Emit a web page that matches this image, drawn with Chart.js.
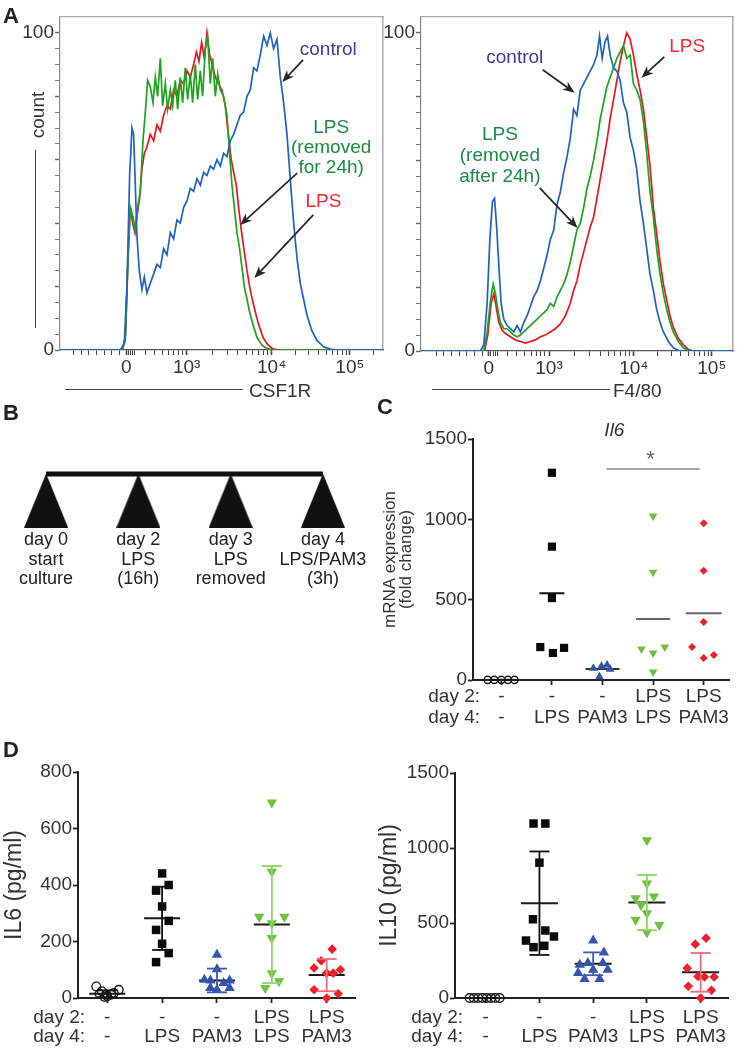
<!DOCTYPE html>
<html><head><meta charset="utf-8">
<script src="https://cdn.jsdelivr.net/npm/chart.js@4.4.1/dist/chart.umd.min.js"></script>
<style>
html,body{margin:0;padding:0;background:#fff;}
body{width:749px;height:1050px;position:relative;overflow:hidden;font-family:"Liberation Sans",Arial,Helvetica,sans-serif;color:#333;}
canvas{position:absolute;}
.pl{position:absolute;font-weight:bold;font-size:22px;line-height:1;color:#222;}
.tx{position:absolute;font-size:19px;line-height:1;color:#333;white-space:nowrap;}
.hl{position:absolute;height:0;border-top:1.3px solid #444;}
.vl{position:absolute;width:0;border-left:1.3px solid #444;}
</style></head><body>

<canvas id="aL" width="392" height="378" style="left:0;top:0"></canvas>
<canvas id="aR" width="374" height="378" style="left:375px;top:0"></canvas>
<canvas id="bT" width="375" height="160" style="left:0;top:440px"></canvas>
<canvas id="cP" width="389" height="335" style="left:360px;top:400px"></canvas>
<canvas id="dL" width="375" height="310" style="left:0;top:740px"></canvas>
<canvas id="dR" width="374" height="310" style="left:375px;top:740px"></canvas>

<div class="pl" style="left:3px;top:5px">A</div>
<div class="pl" style="left:3px;top:402px">B</div>
<div class="pl" style="left:377px;top:396px">C</div>
<div class="pl" style="left:3px;top:739px">D</div>

<div class="tx" style="left:37px;top:115px;transform:translate(-50%,-50%) rotate(-90deg)">count</div>
<div class="vl" style="left:35px;top:150px;height:178px"></div>
<div class="hl" style="left:65px;top:389px;width:178px"></div>
<div class="tx" style="left:249px;top:381px">CSF1R</div>
<div class="hl" style="left:432px;top:389px;width:178px"></div>
<div class="tx" style="left:613px;top:381px">F4/80</div>

<script>
// ================= DATA =================
// Panel A: flow cytometry histograms (x in display decades, y = % of max count)
const flowTickPos = [0, 0.71, 1.71, 2.63];
const flowTickLabels = ['0', '10³', '10⁴', '10⁵'];

const csf1rControl = [[-0.78,0],[-0.07,0],[-0.024,2],[0.008,20],[0.039,55],[0.067,70],[0.086,68],[0.106,52],[0.125,36],[0.153,25],[0.184,19],[0.212,23],[0.243,18],[0.282,21],[0.322,24],[0.361,27],[0.4,26],[0.439,32],[0.478,30],[0.518,37],[0.557,35],[0.596,41],[0.635,40],[0.675,45],[0.714,47],[0.753,51],[0.792,50],[0.831,54],[0.871,52],[0.91,56],[0.949,55],[0.988,58],[1.027,57],[1.067,60],[1.106,58],[1.145,62],[1.184,61],[1.224,66],[1.263,68],[1.302,71],[1.341,74],[1.38,75],[1.42,80],[1.459,82],[1.498,89],[1.537,88],[1.576,93],[1.616,99],[1.655,96],[1.694,100],[1.733,95],[1.773,98],[1.812,86],[1.851,78],[1.89,68],[1.929,54],[1.969,40],[2.008,29],[2.047,21],[2.086,16],[2.125,11],[2.184,6],[2.243,3],[2.322,1],[2.4,0.3],[2.478,0],[3.02,0]];
const csf1rLpsRemoved = [[-0.78,0],[-0.05,0],[-0.012,3],[0.016,25],[0.047,45],[0.078,42],[0.106,38],[0.133,45],[0.165,50],[0.196,66],[0.224,75],[0.251,85],[0.282,83],[0.314,78],[0.341,86],[0.369,80],[0.4,92],[0.427,77],[0.459,84],[0.486,76],[0.518,82],[0.545,77],[0.576,85],[0.604,76],[0.635,86],[0.663,78],[0.694,89],[0.722,79],[0.753,87],[0.78,78],[0.812,90],[0.839,79],[0.871,88],[0.898,80],[0.929,95],[0.957,99],[0.988,84],[1.016,92],[1.047,80],[1.075,87],[1.106,82],[1.145,80],[1.184,74],[1.216,62],[1.243,52],[1.271,45],[1.302,37],[1.333,32],[1.361,26],[1.388,20],[1.42,16],[1.451,12],[1.49,8],[1.537,4],[1.596,1.5],[1.655,0.5],[1.714,0],[3.02,0]];
const csf1rLps = [[-0.78,0],[-0.043,0],[-0.008,5],[0.02,30],[0.047,45],[0.075,40],[0.102,37],[0.125,42],[0.157,48],[0.184,57],[0.212,62],[0.243,64],[0.282,68],[0.322,66],[0.361,71],[0.4,69],[0.439,74],[0.478,77],[0.518,76],[0.557,82],[0.596,80],[0.635,85],[0.675,84],[0.714,88],[0.753,86],[0.792,90],[0.824,94],[0.855,91],[0.886,97],[0.918,92],[0.949,100],[0.98,93],[1.012,90],[1.047,86],[1.086,84],[1.125,82],[1.165,77],[1.204,67],[1.235,60],[1.263,56],[1.294,52],[1.325,44],[1.357,37],[1.388,31],[1.42,25],[1.451,20],[1.482,16],[1.518,12],[1.557,8],[1.608,4],[1.655,2],[1.714,0.5],[1.773,0],[3.02,0]];

const f480Control = [[-0.8,0],[-0.098,0],[-0.059,2],[-0.02,15],[0.012,35],[0.043,47],[0.067,48],[0.09,40],[0.118,27],[0.145,15],[0.176,10],[0.216,8],[0.255,7],[0.294,6],[0.333,8],[0.373,6],[0.412,9],[0.451,11],[0.49,14],[0.529,17],[0.569,19],[0.608,22],[0.647,26],[0.686,30],[0.725,35],[0.765,38],[0.804,46],[0.843,50],[0.882,56],[0.922,61],[0.961,67],[1.0,76],[1.039,74],[1.078,82],[1.118,84],[1.157,86],[1.196,88],[1.235,90],[1.275,93],[1.306,99],[1.337,92],[1.369,97],[1.4,99],[1.431,93],[1.471,89],[1.51,88],[1.549,85],[1.588,78],[1.627,75],[1.667,67],[1.706,63],[1.745,57],[1.784,47],[1.824,40],[1.863,32],[1.902,24],[1.941,19],[1.98,13],[2.02,9],[2.059,6],[2.118,3],[2.176,1],[2.255,0],[2.88,0]];
const f480LpsRemoved = [[-0.8,0],[-0.059,0],[-0.02,6],[0.02,16],[0.051,21],[0.078,18],[0.106,13],[0.137,9],[0.176,7],[0.216,7],[0.255,6],[0.294,5],[0.333,4.5],[0.373,5],[0.412,6],[0.451,7],[0.49,8],[0.529,9],[0.569,10],[0.608,11],[0.647,12],[0.686,13],[0.725,15],[0.765,14],[0.804,17],[0.843,19],[0.882,21],[0.922,24],[0.961,28],[1.0,33],[1.039,38],[1.078,40],[1.118,45],[1.157,51],[1.196,55],[1.235,60],[1.275,66],[1.314,73],[1.353,78],[1.392,83],[1.431,86],[1.471,89],[1.51,92],[1.549,94],[1.588,96],[1.627,92],[1.667,93],[1.706,84],[1.745,82],[1.784,79],[1.824,72],[1.863,62],[1.902,50],[1.941,42],[1.98,32],[2.02,24],[2.059,18],[2.098,13],[2.137,9],[2.176,6],[2.235,3],[2.294,1],[2.373,0],[2.88,0]];
const f480Lps = [[-0.8,0],[-0.051,0],[-0.012,5],[0.027,15],[0.059,18],[0.086,14],[0.118,9],[0.157,6.5],[0.196,5.5],[0.255,4.5],[0.314,3.5],[0.373,3],[0.431,2.5],[0.49,3],[0.549,3.5],[0.608,4.5],[0.667,5],[0.725,6],[0.784,7],[0.843,8.5],[0.902,11],[0.961,15],[1.0,19],[1.039,22],[1.078,27],[1.118,31],[1.157,35],[1.196,39],[1.235,42],[1.275,48],[1.314,54],[1.353,60],[1.392,66],[1.431,73],[1.471,79],[1.51,85],[1.549,91],[1.588,96],[1.627,100],[1.667,98],[1.706,93],[1.745,87],[1.784,82],[1.824,76],[1.863,67],[1.902,58],[1.941,45],[1.98,37],[2.02,28],[2.059,21],[2.098,16],[2.137,11],[2.176,7.5],[2.235,4],[2.294,2],[2.353,0.5],[2.412,0],[2.88,0]];

// Panel B: timeline
const timelineLabels = [['day 0','start','culture'], ['day 2','LPS','(16h)'], ['day 3','LPS','removed'], ['day 4','LPS/PAM3','(3h)']];

// Panels C & D: groups
const groupDay2 = ['-', '-', '-', 'LPS', 'LPS'];
const groupDay4 = ['-', 'LPS', 'PAM3', 'LPS', 'PAM3'];

// Panel C: Il6 mRNA expression (fold change)
const il6mrnaCtrl    = [1, 1, 1, 1, 1];
const il6mrnaLps     = [1290, 830, 510, 205, 168, 200];
const il6mrnaPam3    = [73, 93, 21, 67, 85];
const il6mrnaLpsLps  = [1020, 670, 193, 168, 205, 50];
const il6mrnaLpsPam3 = [975, 680, 361, 205, 137, 156];
const il6mrnaMeans   = [1, 540, 68, 380, 415];
const il6mrnaJitter  = [[-0.27,-0.14,0,0.13,0.26],[0,0,0,-0.23,0.02,0.24],[-0.18,0.09,-0.06,0.15,-0.02],[0,0,-0.23,0,0.23,0],[0,0,0,-0.23,0,0.2]];

// Panel D left: IL6 protein (pg/ml)
const il6Ctrl    = [41, 24, 12, 12, 18, 29, 6, 15, 4];
const il6Lps     = [441, 400, 380, 324, 273, 241, 192, 159, 127];
const il6Pam3    = [153, 102, 65, 62, 62, 53, 35, 29, 35];
const il6LpsLps  = [692, 447, 288, 288, 265, 212, 88, 59, 35];
const il6LpsPam3 = [173, 132, 100, 106, 88, 88, 29, 15, 0];
const il6Means   = [15, 282, 62, 260, 81];
const il6SD      = [12, 112, 42, 207, 57];
const il6Jitter  = [[-0.2,-0.1,-0.02,0.07,0.12,0.21,0,-0.14,-0.05],[0,0.12,-0.11,0,0.12,-0.11,0,0.12,-0.11],[0,0,-0.23,-0.12,0.23,0.12,-0.12,0,0.23],[0,0,-0.23,0.23,0,0,0,0.13,-0.12],[0.1,-0.1,0.25,-0.23,0,0.12,-0.23,0.21,0]];

// Panel D right: IL10 protein (pg/ml)
const il10Ctrl    = [0, 0, 0, 0, 0, 0, 0, 0];
const il10Lps     = [1163, 1163, 902, 525, 450, 410, 383, 339, 348];
const il10Pam3    = [383, 304, 222, 233, 233, 166, 188, 188, 126, 126];
const il10LpsLps  = [1052, 764, 665, 676, 620, 565, 521, 487, 436];
const il10LpsPam3 = [399, 359, 199, 144, 140, 140, 78, 51, 0];
const il10Means   = [0, 632, 228, 636, 171];
const il10SD      = [0, 345, 76, 184, 129];
const il10Jitter  = [[-0.3,-0.22,-0.14,-0.06,0.02,0.1,0.18,0.26],[-0.11,0.11,0,-0.12,0.11,0.27,-0.25,-0.11,0.09],[0,0.2,-0.25,-0.1,0.18,-0.28,0,0.27,-0.16,0.12],[0,0,-0.21,0.13,-0.11,0,-0.21,0.23,0],[0.1,-0.1,-0.25,-0.05,0.07,0.25,-0.23,0.2,0]];

// ================= RENDERING =================
const FONT = '"Liberation Sans", Arial, Helvetica, sans-serif';
Chart.defaults.font.family = FONT;
Chart.defaults.color = '#333';

const notesPlugin = {
  id: 'notes',
  afterDatasetsDraw(chart, args, o) {
    const ctx = chart.ctx, xs = chart.scales.x, ys = chart.scales.y;
    ctx.save();
    (o.arrows || []).forEach(a => {
      const x1 = xs.getPixelForValue(a.from[0]), y1 = ys.getPixelForValue(a.from[1]);
      const x2 = xs.getPixelForValue(a.to[0]), y2 = ys.getPixelForValue(a.to[1]);
      const ang = Math.atan2(y2 - y1, x2 - x1), L = 12, W = 4.8;
      ctx.strokeStyle = '#262626'; ctx.fillStyle = '#262626'; ctx.lineWidth = 1.7;
      ctx.beginPath(); ctx.moveTo(x1, y1);
      ctx.lineTo(x2 - L * 0.7 * Math.cos(ang), y2 - L * 0.7 * Math.sin(ang)); ctx.stroke();
      ctx.beginPath(); ctx.moveTo(x2, y2);
      ctx.lineTo(x2 - L * Math.cos(ang) + W * Math.sin(ang), y2 - L * Math.sin(ang) - W * Math.cos(ang));
      ctx.lineTo(x2 - L * 0.7 * Math.cos(ang), y2 - L * 0.7 * Math.sin(ang));
      ctx.lineTo(x2 - L * Math.cos(ang) - W * Math.sin(ang), y2 - L * Math.sin(ang) + W * Math.cos(ang));
      ctx.closePath(); ctx.fill();
    });
    (o.segments || []).forEach(s => {
      ctx.strokeStyle = s.color; ctx.lineWidth = s.width;
      ctx.beginPath();
      ctx.moveTo(xs.getPixelForValue(s.from[0]), ys.getPixelForValue(s.from[1]));
      ctx.lineTo(xs.getPixelForValue(s.to[0]), ys.getPixelForValue(s.to[1]));
      ctx.stroke();
    });
    (o.texts || []).forEach(t => {
      ctx.font = t.font || ('19px ' + FONT);
      ctx.fillStyle = t.color || '#333'; ctx.textAlign = 'center'; ctx.textBaseline = 'middle';
      const x = xs.getPixelForValue(t.at[0]), y = ys.getPixelForValue(t.at[1]);
      t.lines.forEach((s, i) => ctx.fillText(s, x, y + i * (t.lh || 20)));
    });
    if (o.rowLabels) {
      const r = o.rowLabels;
      ctx.font = r.font; ctx.fillStyle = '#333'; ctx.textAlign = 'right'; ctx.textBaseline = 'middle';
      r.lines.forEach((s, i) => ctx.fillText(s, chart.chartArea.left + r.dx, xs.top + r.y0 + i * r.lh));
    }
    ctx.restore();
  }
};

function flowTicks(min, max) {
  const p = flowTickPos;
  const t = [-0.62, -0.53, -0.44, -0.35, -0.26, -0.17, -0.08, 0.025, 0.05, 0.075, 0.1, 0.22, 0.33, 0.42, 0.5, 0.56, 0.61, 0.66];
  for (let k = 2; k <= 9; k++) t.push(p[1] + Math.log10(k) * (p[2] - p[1]));
  for (let k = 2; k <= 9; k++) t.push(p[2] + Math.log10(k) * (p[3] - p[2]));
  for (let k = 2; k <= 9; k++) t.push(p[3] + Math.log10(k) * (p[3] - p[2]));
  return p.concat(t).filter(v => v >= min && v <= max).sort((a, b) => a - b);
}

function flowChart(id, series, xmin, xmax, yW, padR, xH, notes) {
  new Chart(document.getElementById(id), {
    type: 'scatter',
    data: { datasets: series.map(s => ({
      data: s.pts.map(p => ({ x: p[0], y: p[1] })), showLine: true, borderColor: s.color,
      borderWidth: 1.7, pointRadius: 0, tension: 0 })) },
    options: {
      responsive: false, animation: false, events: [],
      layout: { padding: { top: 17, right: padR, left: 0, bottom: 0 } },
      plugins: { legend: { display: false }, tooltip: { enabled: false }, notes: notes },
      scales: {
        x: {
          type: 'linear', min: xmin, max: xmax,
          afterFit: s => { s.height = xH; },
          afterBuildTicks: s => { s.ticks = flowTicks(xmin, xmax).map(v => ({ value: v })); },
          grid: { display: true, drawOnChartArea: false, drawTicks: true, tickLength: 5, tickColor: '#444',
                  tickWidth: c => (c.tick && flowTickPos.includes(c.tick.value)) ? 1.6 : 1 },
          border: { color: '#555', width: 1.3 },
          ticks: { autoSkip: false, maxRotation: 0, padding: 1, font: { size: 19 }, color: '#333',
                   callback: v => { const i = flowTickPos.indexOf(v); return i >= 0 ? flowTickLabels[i] : ''; } }
        },
        y: {
          min: 0, max: 105,
          afterFit: s => { s.width = yW; },
          afterBuildTicks: s => { const a = []; for (let v = 0; v <= 100; v += 5) a.push({ value: v }); s.ticks = a; },
          grid: { display: true, drawOnChartArea: false, drawTicks: true, tickLength: 5, tickColor: '#666',
                  tickWidth: c => (c.tick && c.tick.value % 20 === 0) ? 1.4 : 0.9 },
          border: { color: '#888', width: 1.2 },
          ticks: { autoSkip: false, padding: 1, font: { size: 19 }, color: '#333',
                   callback: v => (v === 0 || v === 100) ? String(v) : '' }
        },
        x2: { type: 'linear', position: 'top', min: 0, max: 1, afterFit: s => { s.height = 0; },
              grid: { display: false }, ticks: { display: false }, border: { color: '#aaa', width: 1.2 } },
        y2: { type: 'linear', position: 'right', min: 0, max: 1, afterFit: s => { s.width = 0; },
              grid: { display: false }, ticks: { display: false }, border: { color: '#aaa', width: 1.5 } }
      }
    },
    plugins: [notesPlugin]
  });
}

const BLUE = '#1d62c4', GREEN = '#1ea31e', RED = '#e8161f';
flowChart('aL', [
  { pts: csf1rControl, color: BLUE },
  { pts: csf1rLpsRemoved, color: GREEN },
  { pts: csf1rLps, color: RED }
], -0.78, 3.02, 60, 9, 28, {
  texts: [
    { at: [2.376, 94.6], lines: ['control'], color: '#3b3ba6' },
    { at: [2.41, 70], lines: ['LPS', '(removed', 'for 24h)'], color: '#1c8a44', lh: 20 },
    { at: [2.32, 46.7], lines: ['LPS'], color: '#ec2a34' }
  ],
  arrows: [
    { from: [2.08, 91.5], to: [1.835, 84.5] },
    { from: [2.01, 55.8], to: [1.34, 39.4] },
    { from: [2.2, 42.6], to: [1.506, 22.7] }
  ]
});
flowChart('aR', [
  { pts: f480Control, color: BLUE },
  { pts: f480LpsRemoved, color: GREEN },
  { pts: f480Lps, color: RED }
], -0.8, 2.88, 46, 16, 27, {
  texts: [
    { at: [0.306, 92.2], lines: ['control'], color: '#3b3ba6' },
    { at: [2.34, 95.7], lines: ['LPS'], color: '#ec2a34' },
    { at: [0.13, 68.0], lines: ['LPS', '(removed', 'after 24h)'], color: '#1c8a44', lh: 21 }
  ],
  arrows: [
    { from: [0.635, 88.4], to: [1.012, 81.2] },
    { from: [2.07, 92.5], to: [1.8, 85.9] },
    { from: [0.6, 51.3], to: [1.047, 38.7] }
  ]
});

// ---- Panel B timeline
(function () {
  const tri = document.createElement('canvas'); tri.width = 44; tri.height = 54;
  const g = tri.getContext('2d'); g.fillStyle = '#111';
  g.beginPath(); g.moveTo(0, 54); g.lineTo(22, 0); g.lineTo(44, 54); g.closePath(); g.fill();
  const n = timelineLabels.length, barLevel = 0.933, triLevel = 0.49;
  new Chart(document.getElementById('bT'), {
    type: 'scatter',
    data: { datasets: [
      { data: timelineLabels.map((l, i) => ({ x: i, y: triLevel })), pointStyle: tri, pointRadius: 22, showLine: false },
      { data: [{ x: 0, y: barLevel }, { x: n - 1, y: barLevel }], showLine: true, borderColor: '#111', borderWidth: 5, pointRadius: 0 }
    ] },
    options: {
      responsive: false, animation: false, events: [],
      layout: { padding: { top: 30, left: 10, right: 29, bottom: 0 } },
      plugins: { legend: { display: false }, tooltip: { enabled: false } },
      scales: {
        x: { type: 'linear', min: -0.25, max: n - 0.75,
             afterFit: s => { s.height = 70; },
             afterBuildTicks: s => { s.ticks = timelineLabels.map((l, i) => ({ value: i })); },
             grid: { display: false, drawTicks: false }, border: { display: false },
             ticks: { padding: 0, autoSkip: false, maxRotation: 0, font: { size: 18, lineHeight: 1.1 }, color: '#222',
                      callback: v => timelineLabels[v] } },
        y: { display: false, min: 0, max: 1 }
      }
    }
  });
})();

// ---- Dot plots (C, D)
function dotPlot(id, o) {
  const ds = [];
  if (o.sds) o.means.forEach((m, i) => {
    ds.push({ data: [{ x: i, y: m - o.sds[i] }, { x: i, y: m + o.sds[i] }], showLine: true,
      borderColor: o.errColors[i], borderWidth: 1.8, pointStyle: 'line', pointRadius: o.capR,
      pointBorderColor: o.errColors[i], pointBorderWidth: 1.8, clip: false });
  });
  o.groups.forEach((g, i) => {
    ds.push({ data: g.vals.map((v, k) => ({ x: i + o.jitter[i][k], y: v })), showLine: false,
      pointStyle: g.style, pointRotation: g.rot || 0, pointRadius: g.r,
      pointBackgroundColor: g.fill, pointBorderColor: g.stroke, pointBorderWidth: g.bw, clip: false });
  });
  ds.push({ data: o.means.map((m, i) => ({ x: i, y: m })), showLine: false, pointStyle: 'line',
    pointRadius: o.meanR, pointBorderColor: o.meanColors, pointBorderWidth: 2, clip: false });
  new Chart(document.getElementById(id), {
    type: 'scatter',
    data: { datasets: ds },
    options: {
      responsive: false, animation: false, events: [],
      layout: { padding: { top: o.padTop, right: o.padRight, left: 0, bottom: 0 } },
      plugins: { legend: { display: false }, tooltip: { enabled: false }, notes: o.notes },
      scales: {
        x: { type: 'linear', min: o.xmin, max: o.xmax,
             afterFit: s => { s.height = o.xH; },
             afterBuildTicks: s => { s.ticks = groupDay2.map((d, i) => ({ value: i })); },
             grid: { display: true, drawOnChartArea: false, tickLength: 5, tickColor: '#222', tickWidth: 1.8 },
             border: { color: '#222', width: 2 },
             ticks: { autoSkip: false, maxRotation: 0, padding: o.xPad, font: { size: 19, lineHeight: o.xLH }, color: '#333',
                      callback: v => [groupDay2[v], groupDay4[v]] } },
        y: { min: 0, max: o.ymax,
             afterFit: s => { s.width = o.yW; },
             grid: { display: true, drawOnChartArea: false, tickLength: 5, tickColor: '#222', tickWidth: 1.8 },
             border: { color: '#222', width: 2 },
             ticks: { stepSize: o.step, padding: 1, font: { size: 19 }, color: '#333', callback: v => String(v) },
             title: { display: true, text: o.title, font: { size: o.titleSize, lineHeight: o.titleLH }, color: '#333',
                      padding: { top: o.titlePad, bottom: 0 } } }
      }
    },
    plugins: [notesPlugin]
  });
}

const S_CIRC = (r) => ({ style: 'circle', r: r, fill: 'rgba(0,0,0,0)', stroke: '#1a1a1a', bw: 1.4 });
const S_SQ = (r) => ({ style: 'rect', r: r, fill: '#0a0a0a', stroke: '#0a0a0a', bw: 0 });
const S_UP = (r) => ({ style: 'triangle', r: r, fill: '#3553ad', stroke: '#3553ad', bw: 0 });
const S_DN = (r) => ({ style: 'triangle', rot: 180, r: r, fill: '#6cc23e', stroke: '#6cc23e', bw: 0 });
const S_DI = (r) => ({ style: 'rectRot', r: r, fill: '#f0202a', stroke: '#f0202a', bw: 0 });

dotPlot('cP', {
  groups: [
    Object.assign({ vals: il6mrnaCtrl }, S_CIRC(3.6)),
    Object.assign({ vals: il6mrnaLps }, S_SQ(5.8)),
    Object.assign({ vals: il6mrnaPam3 }, S_UP(5)),
    Object.assign({ vals: il6mrnaLpsLps }, S_DN(5)),
    Object.assign({ vals: il6mrnaLpsPam3 }, S_DI(4))
  ],
  jitter: il6mrnaJitter, means: il6mrnaMeans,
  meanR: [12, 12.5, 17, 17, 18], meanColors: ['#111', '#111', '#333', '#666', '#666'],
  xmin: -0.56, xmax: 4.5, ymax: 1500, step: 500,
  padTop: 39, padRight: 6, yW: 113, xH: 55, xPad: 1, xLH: 1.1,
  title: ['mRNA expression', '(fold change)'], titleSize: 17, titleLH: 0.95, titlePad: 22,
  notes: {
    texts: [
      { at: [2.235, 1549], lines: ['Il6'], font: 'italic 19px ' + FONT, color: '#333' },
      { at: [2.95, 1369], lines: ['*'], font: '22px ' + FONT, color: '#666' }
    ],
    segments: [{ from: [2.08, 1313], to: [3.92, 1313], color: '#888', width: 1.6 }],
    rowLabels: { lines: ['day 2:', 'day 4:'], dx: 7, y0: 16.5, lh: 20.9, font: '19px ' + FONT }
  }
});

dotPlot('dL', {
  groups: [
    Object.assign({ vals: il6Ctrl }, S_CIRC(4.3)),
    Object.assign({ vals: il6Lps }, S_SQ(6)),
    Object.assign({ vals: il6Pam3 }, S_UP(6)),
    Object.assign({ vals: il6LpsLps }, S_DN(6)),
    Object.assign({ vals: il6LpsPam3 }, S_DI(4.8))
  ],
  jitter: il6Jitter, means: il6Means, sds: il6SD,
  errColors: ['#111', '#111', '#3a5ab6', '#8fd46a', '#f46a76'], capR: 10,
  meanR: 18, meanColors: '#1a1a1a',
  xmin: -0.533, xmax: 4.516, ymax: 800, step: 200,
  padTop: 32, padRight: 13, yW: 78, xH: 52, xPad: 5, xLH: 1.0,
  title: 'IL6 (pg/ml)', titleSize: 23, titleLH: 1, titlePad: 3.5,
  notes: { rowLabels: { lines: ['day 2:', 'day 4:'], dx: 7, y0: 19.5, lh: 19, font: '19px ' + FONT } }
});

dotPlot('dR', {
  groups: [
    Object.assign({ vals: il10Ctrl }, S_CIRC(4.3)),
    Object.assign({ vals: il10Lps }, S_SQ(6)),
    Object.assign({ vals: il10Pam3 }, S_UP(6)),
    Object.assign({ vals: il10LpsLps }, S_DN(6)),
    Object.assign({ vals: il10LpsPam3 }, S_DI(4.8))
  ],
  jitter: il10Jitter, means: il10Means, sds: il10SD,
  errColors: ['#111', '#111', '#3a5ab6', '#8fd46a', '#f46a76'], capR: 10,
  meanR: 18.5, meanColors: '#1a1a1a',
  xmin: -0.571, xmax: 4.518, ymax: 1500, step: 500,
  padTop: 33, padRight: 9, yW: 80, xH: 52, xPad: 5, xLH: 1.0,
  title: 'IL10 (pg/ml)', titleSize: 23, titleLH: 1, titlePad: 3.5,
  notes: { rowLabels: { lines: ['day 2:', 'day 4:'], dx: 8, y0: 19.5, lh: 19, font: '19px ' + FONT } }
});
</script>
</body></html>
